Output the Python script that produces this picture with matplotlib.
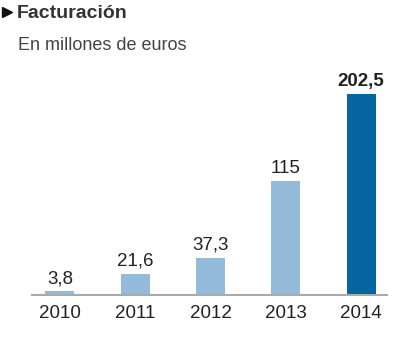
import matplotlib
matplotlib.use("Agg")
import matplotlib.pyplot as plt

years = ["2010", "2011", "2012", "2013", "2014"]
values = [3.8, 21.6, 37.3, 115, 202.5]
labels = ["3,8", "21,6", "37,3", "115", "202,5"]
highlight = [False, False, False, False, True]

plt.rcParams['font.family'] = ['Liberation Sans', 'DejaVu Sans']

fig = plt.figure(figsize=(4.14, 3.45), dpi=100)
W, H = 414, 345
ax = fig.add_axes([32 / W, 50 / H, (387 - 32) / W, (295 - 80) / H])

x = list(range(len(years)))
colors = ["#0465a0" if h else "#94bbd9" for h in highlight]
ax.bar(x, values, width=0.385, color=colors)

for xi, v, lab, h in zip(x, values, labels, highlight):
    ax.text(xi, v + 4, lab, ha="center", va="bottom", fontsize=13.5,
            fontweight="bold" if h else "normal", color="#222222")

ax.set_xlim(-0.37, 4.345)
ax.set_ylim(0, 216.5)
ax.set_xticks(x)
ax.set_xticklabels(years, fontsize=13.5, color="#222222")
ax.tick_params(axis="x", length=0, pad=7)
ax.set_yticks([])
for s in ["top", "right", "left"]:
    ax.spines[s].set_visible(False)
ax.spines["bottom"].set_color("#aaaaaa")
ax.spines["bottom"].set_linewidth(1.5)

# bullet before the title
fig.add_artist(plt.Line2D([7 / W], [1 - 12 / H], marker=">", markersize=6.5,
                          color="#111111", transform=fig.transFigure))
fig.text(17 / W, 1 - 13 / H, "Facturación", fontsize=14, fontweight="bold",
         color="#333333", va="center", ha="left")
fig.text(18 / W, 1 - 45 / H, "En millones de euros", fontsize=13,
         color="#444444", va="center", ha="left")

fig.savefig("out.png", dpi=100)
